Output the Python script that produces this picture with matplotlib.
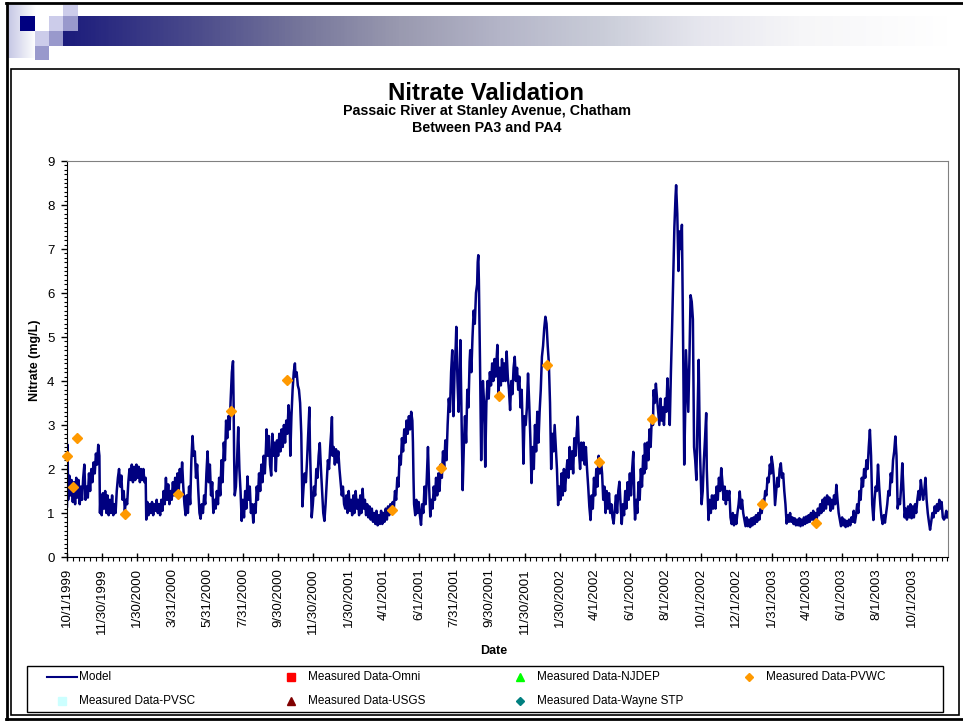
import numpy as np
import pandas as pd
import matplotlib
matplotlib.use('Agg')
import matplotlib.pyplot as plt
from matplotlib.patches import Rectangle
from matplotlib.lines import Line2D
from matplotlib.colors import LinearSegmentedColormap
import matplotlib.dates as mdates

plt.rcParams['font.family'] = ['Liberation Sans', 'DejaVu Sans']

# Model series: days since 10/1/1999 and nitrate (mg/L)
model_day = [
    0, 1, 2, 4, 6, 8, 10, 12, 14, 16, 18, 20, 22, 24, 26, 28, 30, 32, 34, 36,
    38, 40, 42, 44, 46, 48, 50, 52, 54, 56, 57, 58, 60, 62, 64, 66, 68, 70, 72, 74,
    76, 78, 80, 82, 84, 86, 88, 90, 92, 94, 96, 98, 100, 102, 104, 106, 108, 110, 112, 114,
    116, 118, 120, 122, 124, 126, 128, 130, 132, 134, 136, 137, 139, 141, 143, 145, 147, 149, 151, 153,
    155, 157, 159, 161, 163, 165, 167, 169, 171, 173, 175, 177, 179, 181, 183, 185, 187, 189, 191, 193,
    195, 197, 199, 201, 203, 205, 207, 209, 211, 213, 215, 217, 219, 221, 223, 225, 227, 229, 231, 233,
    235, 237, 239, 241, 243, 245, 247, 249, 251, 253, 255, 257, 259, 261, 263, 265, 267, 269, 271, 273,
    275, 277, 279, 281, 283, 285, 287, 288, 289, 290, 292, 294, 296, 298, 300, 302, 304, 306, 308, 310,
    312, 314, 316, 318, 320, 322, 324, 326, 328, 330, 332, 334, 336, 338, 340, 342, 344, 345, 347, 349,
    351, 353, 355, 357, 359, 361, 363, 365, 367, 369, 371, 373, 375, 377, 379, 381, 383, 385, 386, 388,
    390, 392, 394, 395, 397, 399, 401, 403, 405, 406, 407, 409, 411, 413, 415, 417, 419, 420, 422, 423,
    425, 427, 429, 431, 433, 435, 437, 439, 441, 443, 445, 447, 449, 451, 453, 455, 457, 458, 459, 461,
    463, 465, 467, 469, 471, 473, 475, 477, 479, 481, 483, 485, 487, 489, 491, 493, 495, 497, 499, 501,
    503, 505, 507, 509, 511, 513, 515, 517, 519, 521, 523, 525, 527, 529, 531, 533, 535, 537, 539, 541,
    543, 545, 547, 549, 551, 553, 555, 557, 559, 561, 563, 565, 567, 569, 571, 573, 575, 577, 579, 581,
    583, 585, 587, 589, 591, 593, 595, 597, 598, 599, 600, 602, 604, 606, 608, 610, 612, 614, 616, 618,
    620, 622, 624, 626, 628, 630, 632, 634, 636, 638, 640, 642, 644, 646, 648, 650, 652, 654, 656, 658,
    660, 662, 664, 666, 668, 670, 672, 673, 675, 677, 679, 680, 682, 684, 686, 688, 690, 692, 694, 696,
    697, 699, 701, 703, 705, 707, 709, 710, 711, 712, 714, 716, 717, 719, 721, 723, 725, 727, 729, 731,
    733, 735, 737, 739, 741, 743, 744, 746, 748, 750, 752, 754, 756, 758, 760, 762, 764, 766, 768, 770,
    772, 774, 776, 778, 780, 782, 784, 786, 788, 789, 791, 793, 795, 797, 799, 801, 803, 805, 807, 809,
    811, 813, 815, 817, 819, 821, 823, 825, 827, 829, 831, 833, 835, 837, 839, 841, 843, 845, 847, 849,
    851, 853, 855, 857, 859, 861, 863, 865, 867, 869, 871, 873, 875, 877, 879, 881, 883, 885, 887, 889,
    891, 893, 895, 897, 899, 901, 903, 905, 907, 909, 911, 913, 915, 917, 919, 921, 923, 925, 927, 929,
    931, 933, 935, 937, 939, 941, 943, 945, 947, 949, 951, 953, 955, 957, 959, 961, 963, 965, 967, 969,
    971, 973, 975, 977, 979, 981, 982, 984, 986, 988, 990, 992, 994, 996, 998, 999, 1001, 1003, 1005, 1007,
    1009, 1011, 1013, 1014, 1016, 1018, 1020, 1022, 1024, 1026, 1028, 1030, 1032, 1034, 1036, 1038, 1040, 1042, 1044, 1046,
    1048, 1050, 1052, 1053, 1055, 1057, 1059, 1061, 1063, 1065, 1067, 1069, 1070, 1072, 1074, 1076, 1078, 1080, 1082, 1084,
    1086, 1088, 1090, 1092, 1094, 1096, 1097, 1099, 1101, 1103, 1105, 1106, 1108, 1109, 1111, 1113, 1115, 1117, 1119, 1121,
    1123, 1125, 1127, 1129, 1131, 1133, 1135, 1137, 1139, 1141, 1143, 1145, 1147, 1149, 1151, 1153, 1155, 1157, 1159, 1161,
    1163, 1165, 1167, 1169, 1171, 1173, 1175, 1177, 1179, 1181, 1183, 1185, 1187, 1189, 1191, 1193, 1195, 1197, 1199, 1201,
    1203, 1205, 1207, 1209, 1211, 1213, 1215, 1217, 1218, 1220, 1222, 1224, 1226, 1228, 1230, 1232, 1234, 1236, 1238, 1240,
    1242, 1244, 1246, 1248, 1250, 1252, 1254, 1256, 1258, 1260, 1262, 1264, 1266, 1268, 1270, 1272, 1274, 1276, 1278, 1280,
    1282, 1284, 1286, 1288, 1290, 1292, 1294, 1296, 1298, 1300, 1302, 1304, 1306, 1308, 1310, 1312, 1314, 1316, 1318, 1320,
    1322, 1324, 1326, 1328, 1330, 1332, 1334, 1336, 1338, 1340, 1342, 1344, 1346, 1348, 1350, 1352, 1354, 1356, 1358, 1360,
    1362, 1364, 1366, 1368, 1370, 1372, 1374, 1376, 1378, 1380, 1382, 1384, 1386, 1388, 1390, 1392, 1394, 1396, 1398, 1400,
    1402, 1404, 1406, 1408, 1410, 1412, 1414, 1416, 1418, 1420, 1422, 1424, 1426, 1428, 1430, 1432, 1434, 1436, 1438, 1440,
    1442, 1444, 1446, 1448, 1450, 1452, 1454, 1456, 1458, 1460, 1462, 1464, 1466, 1468, 1470, 1472, 1474, 1476, 1478, 1480,
    1482, 1484, 1486, 1488, 1490, 1492, 1494, 1496, 1498, 1500, 1502, 1504, 1506, 1508, 1510, 1512, 1514, 1516, 1518, 1520,
    1522,
]
model_no3 = [
    1.15, 2.55, 1.3, 1.85, 1.4, 1.75, 1.25, 1.7, 1.2, 1.8, 1.35, 1.75, 1.2, 1.6, 1.3, 1.8, 2.1, 1.3, 1.6, 1.35,
    1.9, 1.5, 2.0, 1.7, 2.15, 1.9, 2.35, 2.1, 2.55, 2.3, 1.0, 1.4, 0.95, 1.45, 1.1, 1.5, 1.0, 1.4, 0.95, 1.3,
    1.0, 1.4, 0.95, 1.2, 1.0, 1.5, 1.8, 2.0, 1.6, 1.85, 1.3, 1.5, 1.05, 1.3, 1.2, 1.7, 2.0, 1.75, 2.1, 1.7,
    2.05, 1.75, 2.1, 1.8, 2.05, 1.7, 2.0, 1.75, 2.0, 1.7, 1.8, 0.85, 1.25, 0.95, 1.2, 1.0, 1.25, 0.95, 1.2, 1.05,
    1.3, 1.0, 1.2, 0.95, 1.3, 1.05, 1.5, 1.2, 1.8, 1.3, 1.65, 1.2, 1.5, 1.3, 1.7, 1.4, 1.8, 1.5, 1.9, 1.45,
    2.0, 1.7, 2.15, 1.6, 1.2, 0.95, 1.4, 1.0, 1.6, 1.2, 2.2, 2.75, 2.3, 2.4, 1.8, 2.1, 1.5, 1.0, 0.87, 1.2,
    1.0, 1.4, 1.2, 1.9, 2.4, 1.7, 2.1, 1.4, 1.7, 1.0, 1.3, 1.1, 1.5, 1.2, 1.8, 1.4, 2.2, 1.7, 2.6, 2.2,
    3.1, 2.7, 3.2, 2.9, 3.6, 4.2, 4.45, 3.5, 2.2, 1.4, 1.6, 2.2, 2.95, 2.0, 1.5, 0.82, 1.3, 0.9, 1.5, 1.1,
    1.83, 1.3, 1.6, 1.0, 1.2, 0.78, 1.2, 1.0, 1.6, 1.3, 1.9, 1.5, 2.1, 1.7, 2.3, 1.9, 2.5, 2.9, 2.3, 2.75,
    2.1, 1.85, 2.8, 2.3, 2.6, 1.95, 2.65, 2.3, 2.8, 2.4, 2.9, 2.5, 3.0, 2.6, 3.1, 2.8, 3.45, 3.1, 2.3, 3.2,
    3.8, 4.2, 4.4, 4.1, 4.2, 3.9, 3.8, 3.5, 2.8, 2.0, 1.15, 1.6, 1.9, 1.7, 2.2, 2.8, 3.4, 2.5, 1.5, 0.9,
    1.2, 1.6, 1.4, 2.0, 1.8, 2.3, 2.59, 2.0, 1.5, 1.0, 0.82, 1.2, 1.7, 2.2, 2.0, 2.5, 2.9, 3.18, 2.3, 2.5,
    2.1, 2.45, 2.15, 2.4, 2.0, 1.7, 1.4, 1.6, 1.2, 1.1, 1.4, 1.0, 1.5, 1.05, 1.3, 0.95, 1.4, 1.0, 1.5, 1.1,
    1.3, 0.95, 1.4, 1.0, 1.55, 1.1, 1.3, 0.95, 1.2, 0.9, 1.15, 0.85, 1.1, 0.8, 1.0, 0.75, 1.05, 0.72, 0.95, 0.75,
    1.05, 0.75, 1.0, 0.8, 1.1, 0.85, 1.15, 0.95, 1.2, 1.0, 1.25, 1.1, 1.5, 1.3, 1.8, 1.6, 2.3, 2.1, 2.7, 2.4,
    2.9, 2.6, 3.1, 2.8, 3.2, 2.9, 3.3, 3.1, 2.6, 1.8, 1.2, 0.95, 1.3, 1.0, 1.25, 0.95, 0.73, 1.2, 1.0, 1.6,
    1.2, 1.8, 2.5, 1.6, 0.92, 1.3, 1.1, 1.6, 1.3, 1.8, 1.4, 1.9, 1.5, 2.1, 1.8, 2.4, 2.0, 2.65, 2.2, 3.0,
    3.6, 3.3, 4.2, 4.7, 3.2, 4.2, 4.8, 5.23, 4.0, 3.3, 4.3, 4.93, 3.2, 1.52, 2.5, 3.2, 2.6, 3.8, 3.4, 4.44,
    4.7, 4.2, 5.0, 5.6, 5.3, 6.0, 6.2, 6.7, 6.86, 6.3, 4.4, 2.2, 3.0, 4.0, 3.5, 2.05, 3.5, 4.0, 3.6, 4.2,
    3.9, 4.4, 4.0, 4.5, 4.1, 4.6, 4.82, 3.7, 4.3, 3.9, 4.5, 4.0, 4.4, 4.0, 4.67, 4.1, 3.8, 3.34, 4.0, 3.7,
    4.3, 4.55, 4.0, 4.3, 3.8, 4.1, 3.4, 3.8, 2.8, 2.12, 3.2, 3.0, 3.4, 4.17, 3.5, 2.7, 1.68, 2.5, 2.0, 3.0,
    2.4, 3.3, 2.6, 3.3, 3.8, 4.55, 4.8, 5.2, 5.46, 5.3, 4.8, 4.4, 3.5, 2.0, 2.8, 2.4, 3.0, 2.5, 2.0, 1.18,
    1.6, 1.3, 1.9, 1.4, 2.0, 1.5, 1.9, 2.2, 1.8, 2.5, 2.0, 2.4, 1.9, 2.7, 2.3, 2.8, 3.19, 2.4, 2.0, 2.6,
    2.2, 2.6, 2.1, 2.5, 2.0, 1.6, 1.14, 0.84, 1.4, 1.1, 1.8, 1.4, 2.0, 1.6, 2.3, 1.9, 2.2, 1.9, 1.3, 1.6,
    1.0, 1.5, 1.1, 1.45, 1.0, 1.2, 0.9, 0.76, 1.1, 1.4, 1.0, 1.5, 1.71, 1.2, 0.75, 1.2, 0.95, 1.5, 1.1, 1.7,
    1.3, 1.9, 1.4, 2.0, 2.39, 1.2, 0.85, 1.3, 1.0, 1.7, 1.3, 2.0, 1.6, 2.3, 1.9, 2.58, 2.0, 2.6, 2.2, 2.9,
    2.5, 3.2, 3.0, 3.79, 3.5, 3.94, 3.6, 3.3, 3.0, 3.6, 3.1, 3.4, 3.0, 3.6, 3.3, 4.06, 3.5, 3.0, 4.2, 5.2,
    6.4, 7.5, 8.2, 8.45, 7.8, 6.5, 7.4, 7.0, 7.55, 5.0, 2.1, 3.5, 4.7, 4.0, 3.3, 4.5, 5.95, 5.8, 5.4, 2.5,
    2.2, 1.75, 3.2, 4.48, 2.5, 1.6, 1.2, 1.5, 2.2, 2.7, 3.27, 2.0, 1.2, 0.84, 1.3, 1.0, 1.4, 1.1, 1.4, 1.1,
    1.6, 1.3, 1.8, 1.5, 2.02, 1.7, 1.3, 1.6, 1.2, 1.5, 1.3, 1.5, 0.9, 0.75, 1.0, 0.72, 0.95, 0.75, 1.0, 1.2,
    1.49, 1.1, 1.3, 1.0, 0.85, 0.7, 0.9, 0.7, 0.85, 0.68, 0.88, 0.72, 0.9, 0.75, 0.95, 0.8, 1.0, 0.85, 1.1, 1.0,
    1.3, 1.2, 1.5, 1.4, 1.8, 1.7, 2.1, 1.9, 2.28, 2.1, 1.8, 1.18, 1.5, 1.8, 1.6, 2.0, 2.13, 1.8, 1.9, 1.5,
    1.2, 0.76, 0.95, 0.8, 1.0, 0.8, 0.9, 0.75, 0.88, 0.72, 0.85, 0.72, 0.88, 0.7, 0.85, 0.72, 0.9, 0.75, 0.92, 0.78,
    0.95, 0.8, 1.0, 0.85, 1.05, 0.82, 1.0, 0.85, 1.1, 0.95, 1.2, 1.0, 1.3, 1.05, 1.35, 1.1, 1.4, 1.2, 1.35, 1.05,
    1.3, 1.1, 1.4, 1.2, 1.64, 1.3, 1.0, 0.85, 0.7, 0.9, 0.72, 0.85, 0.68, 0.82, 0.7, 0.85, 0.72, 0.9, 0.8, 1.05,
    0.78, 0.95, 1.2, 1.0, 1.5, 1.3, 1.8, 1.6, 2.0, 1.8, 2.2, 2.0, 2.5, 2.89, 2.3, 1.2, 0.84, 1.3, 1.6, 1.5,
    2.1, 1.6, 1.2, 0.9, 0.75, 0.95, 0.78, 1.0, 1.2, 1.5, 1.4, 1.9, 1.7, 2.2, 2.4, 2.74, 2.3, 1.1, 1.3, 1.2,
    1.6, 2.13, 1.5, 0.9, 1.1, 0.85, 1.15, 0.9, 1.2, 0.88, 1.15, 0.9, 1.2, 1.0, 1.3, 1.5, 1.3, 1.75, 1.5, 1.3,
    1.5, 1.8, 1.3, 1.0, 0.8, 0.62, 0.8, 1.0, 0.9, 1.15, 1.0, 1.2, 1.05, 1.3, 1.1, 1.25, 0.9, 0.85, 0.9, 1.05,
    0.9,
]

# Measured Data-PVWC (the only measured series with points in this window)
pvwc_dates = ['10/1/1999', '10/11/1999', '10/18/1999', '1/9/2000', '4/10/2000',
              '7/11/2000', '10/16/2000', '4/15/2001', '7/9/2001', '10/16/2001',
              '1/7/2002', '4/8/2002', '7/9/2002', '1/15/2003', '4/17/2003']
pvwc_no3 = [2.30, 1.59, 2.70, 0.98, 1.43, 3.32, 4.02, 1.07, 2.02, 3.66,
            4.36, 2.16, 3.14, 1.20, 0.77]

tick_labels = ['10/1/1999', '11/30/1999', '1/30/2000', '3/31/2000', '5/31/2000',
               '7/31/2000', '9/30/2000', '11/30/2000', '1/30/2001', '4/1/2001',
               '6/1/2001', '7/31/2001', '9/30/2001', '11/30/2001', '1/30/2002',
               '4/1/2002', '6/1/2002', '8/1/2002', '10/1/2002', '12/1/2002',
               '1/31/2003', '4/1/2003', '6/1/2003', '8/1/2003', '10/1/2003']

legend_labels = ['Model', 'Measured Data-Omni', 'Measured Data-NJDEP', 'Measured Data-PVWC',
                 'Measured Data-PVSC', 'Measured Data-USGS', 'Measured Data-Wayne STP']
legend_markers = [None, 's', '^', 'D', 's', '^', 'D']
legend_colors = ['#000080', '#FF0000', '#00FF00', '#FF9900', '#CCFFFF', '#800000', '#008080']

W, H = 963, 721
fig = plt.figure(figsize=(W / 100, H / 100), dpi=100)


def fx(x):
    return x / W


def fy(y):
    return 1 - y / H


def box(x0, y0, x1, y1, **kw):
    fig.add_artist(Rectangle((fx(x0), fy(y1)), fx(x1) - fx(x0), fy(y0) - fy(y1),
                             transform=fig.transFigure, **kw))


def line(xs, ys, **kw):
    fig.add_artist(Line2D([fx(x) for x in xs], [fy(y) for y in ys],
                          transform=fig.transFigure, **kw))


# slide header: gradient bar and squares
hdr = LinearSegmentedColormap.from_list('hdr', [
    (0.0, '#1c1c7c'), (0.154, '#4d4d8c'), (0.267, '#76769b'), (0.38, '#9a9ab0'),
    (0.493, '#b4b5c8'), (0.605, '#c9ccd8'), (0.718, '#e6e6ee'), (0.831, '#f6f6f8'),
    (1.0, '#ffffff')])
gax = fig.add_axes([fx(63), fy(46), fx(950) - fx(63), fy(16) - fy(46)])
gax.imshow(np.linspace(0, 1, 600)[None, :], aspect='auto', cmap=hdr, extent=(0, 1, 0, 1))
gax.axis('off')

strip = LinearSegmentedColormap.from_list('strip', ['#c5c7e4', '#ffffff'])
sax = fig.add_axes([fx(8), fy(58), fx(35) - fx(8), fy(5) - fy(58)])
sax.imshow(np.linspace(0, 1, 100)[None, :], aspect='auto', cmap=strip, extent=(0, 1, 0, 1))
sax.axis('off')

box(20, 16, 35, 31, color='#000080', lw=0)
box(49, 16, 63, 31, color='#ccccea', lw=0)
box(63, 5, 78, 16, color='#ccccea', lw=0)
box(63, 16, 78, 31, color='#9999cc', lw=0)
box(35, 31, 49, 46, color='#ccccea', lw=0)
box(49, 31, 63, 46, color='#9999cc', lw=0)
box(35, 46, 49, 60, color='#9999cc', lw=0)

# frames
line([6, 963], [3, 3], color='black', lw=2)
line([7, 7], [3, 720], color='black', lw=2)
line([6, 963], [719, 719], color='black', lw=2)
box(10.5, 68.5, 959, 714.5, fill=False, ec='black', lw=1.2)

# main plot
ax = fig.add_axes([fx(67), fy(557), fx(948) - fx(67), fy(161) - fy(557)])
start = pd.Timestamp('1999-10-01')
model_dates = start + pd.to_timedelta(model_day, unit='D')
ax.plot(model_dates, model_no3, color='#000080', lw=1.8, zorder=2)
ax.plot(pd.to_datetime(pvwc_dates, format='%m/%d/%Y'), pvwc_no3, ls='none', marker='D',
        ms=5.5, color='#FF9900', mec='#FF9900', clip_on=False, zorder=3)

ax.set_xlim(start, start + pd.Timedelta(days=1523))
ax.set_ylim(0, 9)
tick_dates = pd.to_datetime(tick_labels, format='%m/%d/%Y')
ax.set_xticks(tick_dates)
ax.set_xticklabels(tick_labels, rotation=90, fontsize=9.5)
major_num = mdates.date2num(tick_dates)
minor = [np.linspace(a, b, 7)[1:-1] for a, b in zip(major_num[:-1], major_num[1:])]
minor.append(major_num[-1] + np.arange(1, 7) * 61 / 6)
ax.set_xticks(np.concatenate(minor), minor=True)
ax.set_yticks(range(10))
ax.set_yticks(np.arange(0, 9.01, 0.1), minor=True)
ax.tick_params(axis='y', labelsize=9.5)
ax.tick_params(axis='x', which='major', direction='inout', length=6, width=1, pad=5)
ax.tick_params(axis='x', which='minor', direction='out', length=3, width=0.8)
ax.tick_params(axis='y', which='major', direction='out', length=4, width=1, pad=5)
ax.tick_params(axis='y', which='minor', direction='out', length=2.5, width=0.8)
for s in ['top', 'right']:
    ax.spines[s].set_color('#808080')

fig.text(fx(35), fy(360), 'Nitrate (mg/L)', rotation=90, ha='center', va='center',
         fontsize=9, fontweight='bold')
fig.text(fx(494), fy(651), 'Date', ha='center', va='center', fontsize=9, fontweight='bold')

fig.text(fx(486), fy(93), 'Nitrate Validation', ha='center', va='center',
         fontsize=17.3, fontweight='bold')
fig.text(fx(487), fy(111), 'Passaic River at Stanley Avenue, Chatham', ha='center',
         va='center', fontsize=10.3, fontweight='bold')
fig.text(fx(487), fy(128), 'Between PA3 and PA4', ha='center', va='center',
         fontsize=10.3, fontweight='bold')

# legend box
box(27, 666, 943, 712, fill=False, ec='black', lw=1)
lax = fig.add_axes([fx(27), fy(712), fx(943) - fx(27), fy(666) - fy(712)])
lax.set_xlim(0, 4)
lax.set_ylim(0, 1)
lax.axis('off')
for i, (lab, mk, col) in enumerate(zip(legend_labels, legend_markers, legend_colors)):
    c, r = i % 4, i // 4
    y = 0.76 if r == 0 else 0.24
    if mk is None:
        lax.plot([c + 0.087, c + 0.218], [y, y], color=col, lw=1.5)
    else:
        lax.plot(c + 0.152, y, marker=mk, ms=4.5 if mk == 'D' else 6, color=col, ls='none')
    lax.text(c + 0.227, y, lab, va='center', ha='left', fontsize=8.5)

fig.savefig('out.png', dpi=100)
